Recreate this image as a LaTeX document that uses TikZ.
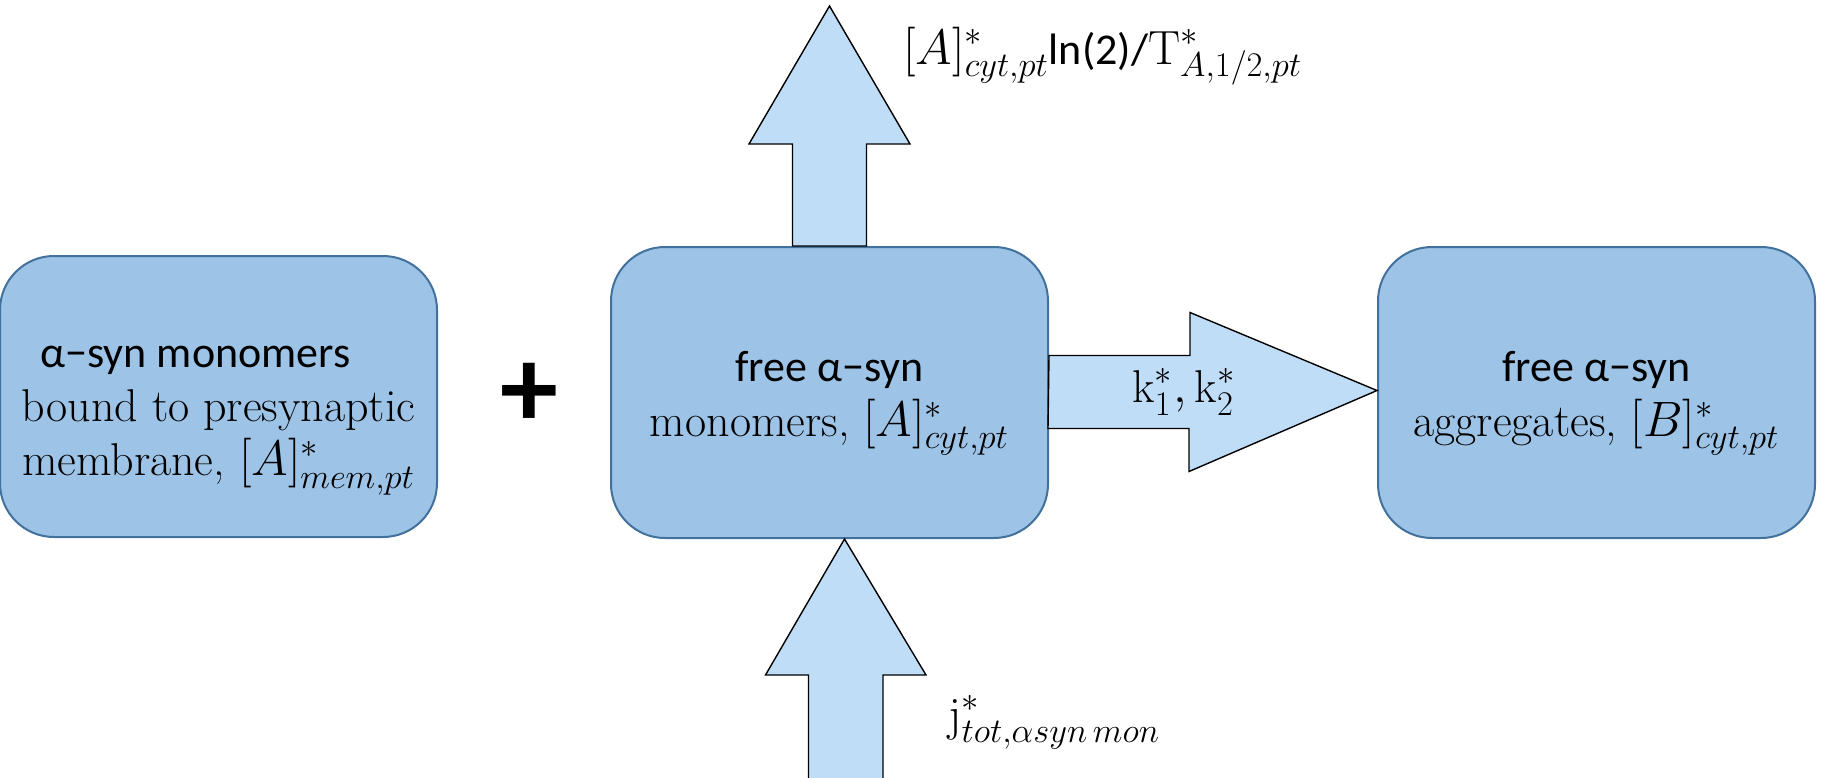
\documentclass[tikz,border=0pt]{standalone}
\usepackage{fontspec}
\newfontfamily\calib{Carlito}
\usetikzlibrary{positioning,calc}
\definecolor{poolfill}{HTML}{9DC3E6}
\definecolor{poolline}{HTML}{41719C}
\definecolor{flowfill}{HTML}{C0DDF8}
\newcommand\sanstext[1]{{\calib\fontsize{22}{27}\selectfont #1}}

\begin{document}
\begin{tikzpicture}[x=0.5pt,y=-0.5pt,
  pool/.style={draw=poolline,fill=poolfill,line width=1pt,rounded corners=27pt,align=center,
    minimum width=218.5pt,minimum height=145.5pt,inner sep=0pt,
    font=\fontsize{23}{27.5}\selectfont},
  flow/.style={draw=black,fill=flowfill,line width=0.7pt,line join=miter},
  lbl/.style={font=\fontsize{24}{28}\selectfont,inner sep=0pt}]
\useasboundingbox (0,0) rectangle (1821,777);
% the three pools
\node[pool] (mon) at (829.5,392.5)
  {\rule{0pt}{26pt}\sanstext{free α−syn}\\monomers, $[A]^*_{cyt,pt}$};
\node[pool,minimum height=140.5pt,left=86pt of mon,yshift=-2pt,
  font=\fontsize{23}{27}\selectfont] (mem)
  {\rule{0pt}{35pt}\sanstext{α−syn monomers}\hspace*{23pt}\\bound to presynaptic\\membrane, $[A]^*_{mem,pt}$};
\node[pool,right=164pt of mon] (agg)
  {\rule{0pt}{26pt}\sanstext{free α−syn}\\aggregates, $[B]^*_{cyt,pt}$};
\node[font=\calib\bfseries\fontsize{58}{60}\selectfont,inner sep=0pt] (plus) at (529,395) {+};
% free ends of the vertical flows
\coordinate (out) at ($(mon.north)+(0,-240)$);
\coordinate (in) at ($(mon.south)+(16,250)$);
% block arrows
\draw[flow] (mon.east) ++(0,-37) -- ++(141,0) -- ++(0,-43) -- ($(agg.west)+(0,-2)$)
  -- ++(-188,81) -- ++(0,-43) -- ++(-141,0) -- cycle;
\draw[flow] (mon.north) ++(-37,0) -- ++(0,-102) -- ++(-43.5,0) -- (out)
  -- ++(80.5,138) -- ++(-43.5,0) -- ++(0,102) -- cycle;
\draw[flow] (in) ++(-37,0) -- ++(0,-114) -- ++(-43,0) -- ($(mon.south)+(15,0)$)
  -- ++(81.5,136) -- ++(-43,0) -- ++(0,114) -- cycle;
% rates
\node[lbl,font=\fontsize{23}{27}\selectfont] (rate) at (1184,392) {$\mathrm{k}^*_1, \mathrm{k}^*_2$};
\node[lbl,anchor=base west] (decay) at (903,64)
  {$[A]^*_{cyt,pt}$\sanstext{ln(2)/}$\mathrm{T}^*_{A,1/2,pt}$};
\node[lbl,anchor=base west] (src) at (948,730) {$\mathrm{j}^*_{tot,\alpha syn\,mon}$};
\end{tikzpicture}
\end{document}
